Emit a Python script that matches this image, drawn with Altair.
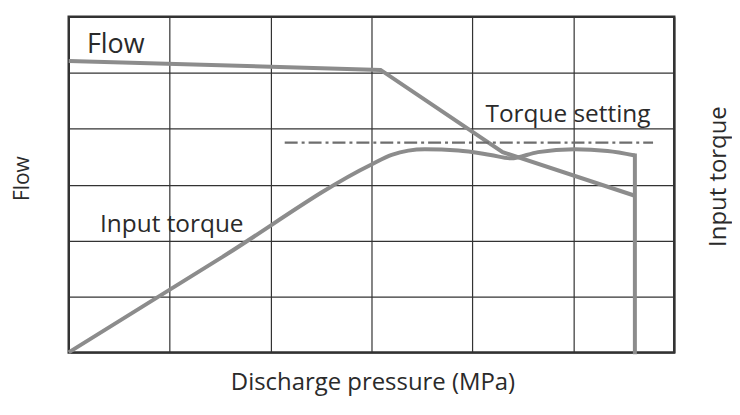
import altair as alt
import pandas as pd

# Flow curve
flow_x = [0, 3.09, 4.30, 5.61]
flow_y = [5.21, 5.05, 3.58, 2.80]

# Input torque curve
torque_x = [0, 1.5, 3.0, 3.2, 3.53, 3.86, 4.18, 4.38, 4.65, 5.01, 5.34, 5.61]
torque_y = [0, 1.68, 3.36, 3.53, 3.63, 3.61, 3.53, 3.47, 3.58, 3.63, 3.60, 3.52]

# vertical cut-off of torque
cut_x = [5.61, 5.61]
cut_y = [3.52, 0]

# torque setting line
setting_x = [2.14]
setting_x2 = [5.79]
setting_y = [3.75]

# labels
label_text = ["Flow", "Torque setting", "Input torque"]
label_x = [0.18, 4.13, 0.31]
label_y = [5.36, 4.11, 2.15]
label_size = [27, 24.5, 24.5]

grid_vals = [0, 1, 2, 3, 4, 5, 6]

FONT = "Open Sans"
LINE = "#8c8c8c"
TXT = "#2a2a2a"

xs = alt.Scale(domain=[0, 6], nice=False, zero=False)
ys = alt.Scale(domain=[0, 6], nice=False, zero=False)

flow_df = pd.DataFrame({"x": flow_x, "y": flow_y, "o": range(len(flow_x))})
torque_df = pd.DataFrame({"x": torque_x, "y": torque_y, "o": range(len(torque_x))})
cut_df = pd.DataFrame({"x": cut_x, "y": cut_y, "o": range(len(cut_x))})
set_df = pd.DataFrame({"x": setting_x, "x2": setting_x2, "y": setting_y})
lab_df = pd.DataFrame({"t": label_text, "x": label_x, "y": label_y, "s": label_size})

x_axis = alt.Axis(values=grid_vals, grid=True, gridColor="#333333", gridWidth=1.2,
                  labels=False, ticks=False, domain=False,
                  title="Discharge pressure (MPa)", titleFont=FONT, titleFontSize=24,
                  titleFontWeight="normal", titleColor=TXT,
                  titleX=305, titleY=30, titleAlign="center", titleBaseline="middle")
y_axis_left = alt.Axis(values=grid_vals, grid=True, gridColor="#333333", gridWidth=1.2,
                       labels=False, ticks=False, domain=False, orient="left",
                       title="Flow", titleFont=FONT, titleFontSize=21,
                       titleFontWeight="normal", titleColor=TXT,
                       titleX=-46, titleY=162, titleAngle=270,
                       titleAlign="center", titleBaseline="middle")
y_axis_right = alt.Axis(values=grid_vals, grid=False,
                        labels=False, ticks=False, domain=False, orient="right",
                        title="Input torque", titleFont=FONT, titleFontSize=24,
                        titleFontWeight="normal", titleColor=TXT,
                        titleX=44, titleY=160, titleAngle=270,
                        titleAlign="center", titleBaseline="middle")


def X():
    return alt.X("x:Q", scale=xs, axis=x_axis)


flow = alt.Chart(flow_df).mark_line(color=LINE, strokeWidth=4, strokeJoin="miter").encode(
    x=X(),
    y=alt.Y("y:Q", scale=ys, axis=y_axis_left),
    order="o:Q",
)

torque = alt.Chart(torque_df).mark_line(color=LINE, strokeWidth=4, interpolate="monotone").encode(
    x=X(),
    y=alt.Y("y:Q", scale=ys, axis=y_axis_right),
    order="o:Q",
)

cut = alt.Chart(cut_df).mark_line(color=LINE, strokeWidth=4, strokeCap="square").encode(
    x=X(),
    y=alt.Y("y:Q", scale=ys, axis=None),
    order="o:Q",
)

setting = alt.Chart(set_df).mark_rule(color="#6e6e6e", strokeWidth=2.2,
                                      strokeDash=[13, 4, 3, 4]).encode(
    x=X(),
    x2="x2:Q",
    y=alt.Y("y:Q", scale=ys, axis=None),
)

labels = alt.Chart(lab_df).mark_text(font=FONT, color=TXT, align="left",
                                     baseline="alphabetic").encode(
    x=X(),
    y=alt.Y("y:Q", scale=ys, axis=None),
    text="t:N",
    size=alt.Size("s:Q", scale=None, legend=None),
)

chart = alt.layer(flow, torque, cut, setting, labels).resolve_axis(
    y="independent"
).properties(
    width=608,
    height=337,
    padding={"left": 61, "top": 8, "right": 58, "bottom": 45},
    autosize=alt.AutoSizeParams(type="none"),
    background="white",
).configure_view(stroke="#333333", strokeWidth=2.5)

chart.save("out.html", embed_options={"renderer": "svg", "actions": False})
